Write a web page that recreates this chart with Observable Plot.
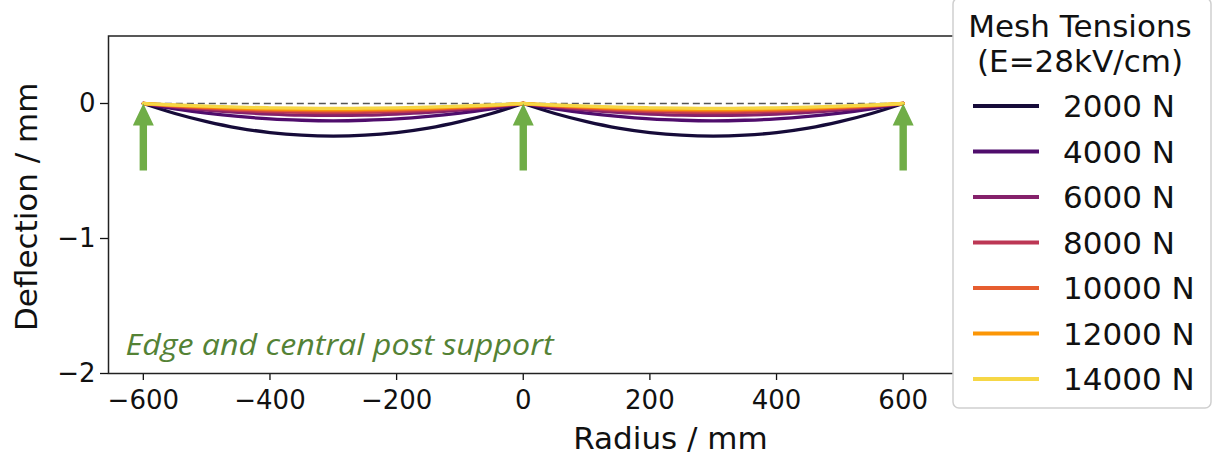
<!DOCTYPE html>
<html>
<head>
<meta charset="utf-8">
<script src="https://cdn.jsdelivr.net/npm/d3@7"></script>
<script src="https://cdn.jsdelivr.net/npm/@observablehq/plot@0.6"></script>
<style>
  body { margin: 0; background: #fff; }
  #wrap { position: relative; width: 1215px; height: 455px; overflow: hidden; background: #fff; }
</style>
</head>
<body>
<div id="wrap"></div>
<script>
// ---------------- data ----------------
const radius = [-600,-550,-500,-450,-400,-350,-300,-250,-200,-150,-100,-50,0,50,100,150,200,250,300,350,400,450,500,550,600];
const tensions = [2000, 4000, 6000, 8000, 10000, 12000, 14000];
const deflection2000  = [0,-0.074,-0.134,-0.182,-0.215,-0.235,-0.242,-0.235,-0.215,-0.182,-0.134,-0.074,0,-0.074,-0.134,-0.182,-0.215,-0.235,-0.242,-0.235,-0.215,-0.182,-0.134,-0.074,0];
const deflection4000  = [0,-0.039,-0.071,-0.096,-0.114,-0.124,-0.128,-0.124,-0.114,-0.096,-0.071,-0.039,0,-0.039,-0.071,-0.096,-0.114,-0.124,-0.128,-0.124,-0.114,-0.096,-0.071,-0.039,0];
const deflection6000  = [0,-0.027,-0.049,-0.066,-0.078,-0.086,-0.088,-0.086,-0.078,-0.066,-0.049,-0.027,0,-0.027,-0.049,-0.066,-0.078,-0.086,-0.088,-0.086,-0.078,-0.066,-0.049,-0.027,0];
const deflection8000  = [0,-0.021,-0.038,-0.051,-0.060,-0.066,-0.068,-0.066,-0.060,-0.051,-0.038,-0.021,0,-0.021,-0.038,-0.051,-0.060,-0.066,-0.068,-0.066,-0.060,-0.051,-0.038,-0.021,0];
const deflection10000 = [0,-0.017,-0.031,-0.041,-0.049,-0.053,-0.055,-0.053,-0.049,-0.041,-0.031,-0.017,0,-0.017,-0.031,-0.041,-0.049,-0.053,-0.055,-0.053,-0.049,-0.041,-0.031,-0.017,0];
const deflection12000 = [0,-0.014,-0.025,-0.034,-0.040,-0.044,-0.045,-0.044,-0.040,-0.034,-0.025,-0.014,0,-0.014,-0.025,-0.034,-0.040,-0.044,-0.045,-0.044,-0.040,-0.034,-0.025,-0.014,0];
const deflection14000 = [0,-0.011,-0.020,-0.027,-0.032,-0.035,-0.036,-0.035,-0.032,-0.027,-0.020,-0.011,0,-0.011,-0.020,-0.027,-0.032,-0.035,-0.036,-0.035,-0.032,-0.027,-0.020,-0.011,0];
const supports = [-600, 0, 600];
const supportLevel = 0;
const xTicks = [-600, -400, -200, 0, 200, 400, 600];
const yTicks = [0, -1, -2];
const legendTitle = ["Mesh Tensions", "(E=28kV/cm)"];
const legendLabels = ["2000 N", "4000 N", "6000 N", "8000 N", "10000 N", "12000 N", "14000 N"];
const annotation = "Edge and central post support";
const xLabel = "Radius / mm";
const yLabel = "Deflection / mm";

// ---------------- table ----------------
const series = [deflection2000, deflection4000, deflection6000, deflection8000, deflection10000, deflection12000, deflection14000];
const rows = [];
series.forEach((vals, i) => {
  radius.forEach((r, j) => {
    if (r <= 0) rows.push({r, d: vals[j], tension: tensions[i], key: tensions[i] + "L"});
    if (r >= 0) rows.push({r, d: vals[j], tension: tensions[i], key: tensions[i] + "R"});
  });
});
const colors = tensions.map((t, i) => d3.interpolateInferno(0.1 + 0.8 * i / (tensions.length - 1)));

const blockArrow = {
  draw(ctx, l) {
    const hw = 3.7, headW = 10.5, headH = 22;
    ctx.moveTo(-hw, 0);
    ctx.lineTo(-hw, -(l - headH));
    ctx.lineTo(-headW, -(l - headH));
    ctx.lineTo(0, -l);
    ctx.lineTo(headW, -(l - headH));
    ctx.lineTo(hw, -(l - headH));
    ctx.lineTo(hw, 0);
    ctx.closePath();
  }
};

const ink = "#111";
const chart = Plot.plot({
  width: 1215,
  height: 455,
  marginTop: 35.5,
  marginBottom: 82,
  marginLeft: 108,
  marginRight: 249,
  x: {domain: [-655, 700], label: null},
  y: {domain: [-2, 0.5], label: null},
  color: {domain: tensions, range: colors},
  style: {fontFamily: "'DejaVu Sans', sans-serif", color: ink, background: "white", overflow: "visible"},
  marks: [
    Plot.ruleY([supportLevel], {x1: supports[0], x2: supports[2], stroke: "#555", strokeWidth: 1.3, strokeDasharray: "7,4"}),
    Plot.line(rows, {x: "r", y: "d", z: "key", stroke: "tension", strokeWidth: 3.3, curve: "natural"}),
    Plot.vector(supports, {x: d => d, y: () => supportLevel, length: 67, anchor: "end", shape: blockArrow, fill: "#70ad47", stroke: "none"}),
    Plot.text([annotation], {text: d => d, frameAnchor: "bottom-left", dx: 17, dy: -19, textAnchor: "start", lineAnchor: "bottom", fill: "#548235", fontSize: 30, fontStyle: "italic", fontFamily: "'Open Sans', sans-serif", className: "annot"}),
    Plot.axisX({ticks: xTicks, tickSize: 7, tickPadding: 10, fontSize: 26, strokeWidth: 1.3, label: null, tickFormat: "~f"}),
    Plot.axisY({ticks: yTicks, tickSize: 8, tickPadding: 5, fontSize: 26, strokeWidth: 1.3, label: null, tickFormat: "~f"}),
    Plot.text([xLabel], {text: d => d, frameAnchor: "bottom-left", dx: 562, dy: 75, textAnchor: "middle", lineAnchor: "bottom", fontSize: 31}),
    Plot.text([yLabel], {text: d => d, frameAnchor: "left", dx: -72, dy: 2, rotate: -90, textAnchor: "middle", lineAnchor: "bottom", fontSize: 31}),
    Plot.frame({stroke: "#222", strokeWidth: 1.5})
  ]
});
const wrap = document.getElementById("wrap");
wrap.appendChild(chart);

// squeeze annotation to the reference's width
d3.select(chart).selectAll("g.annot text").attr("textLength", 428).attr("lengthAdjust", "spacingAndGlyphs");

// ---------------- legend ----------------
const lg = d3.create("svg")
  .attr("width", 264).attr("height", 416)
  .style("position", "absolute").style("left", "951px").style("top", "-3px")
  .style("font-family", "'DejaVu Sans', sans-serif");
lg.append("rect").attr("x", 2).attr("y", 1).attr("width", 258).attr("height", 410)
  .attr("rx", 6).attr("fill", "white").attr("stroke", "#cfcfcf").attr("stroke-width", 1.5);
lg.selectAll("text.title").data(legendTitle).join("text").attr("class", "title")
  .attr("x", 129).attr("y", (d, i) => 40 + i * 35).attr("text-anchor", "middle")
  .attr("font-size", 31).attr("fill", ink).text(d => d);
const entry = lg.selectAll("g.entry").data(legendLabels).join("g").attr("class", "entry")
  .attr("transform", (d, i) => `translate(0,${109 + i * 45.5})`);
entry.append("line").attr("x1", 22).attr("x2", 88).attr("y1", 0).attr("y2", 0)
  .attr("stroke", (d, i) => colors[i]).attr("stroke-width", 4);
entry.append("text").attr("x", 112).attr("y", 11).attr("font-size", 31).attr("fill", ink).text(d => d);
wrap.appendChild(lg.node());
</script>
</body>
</html>
